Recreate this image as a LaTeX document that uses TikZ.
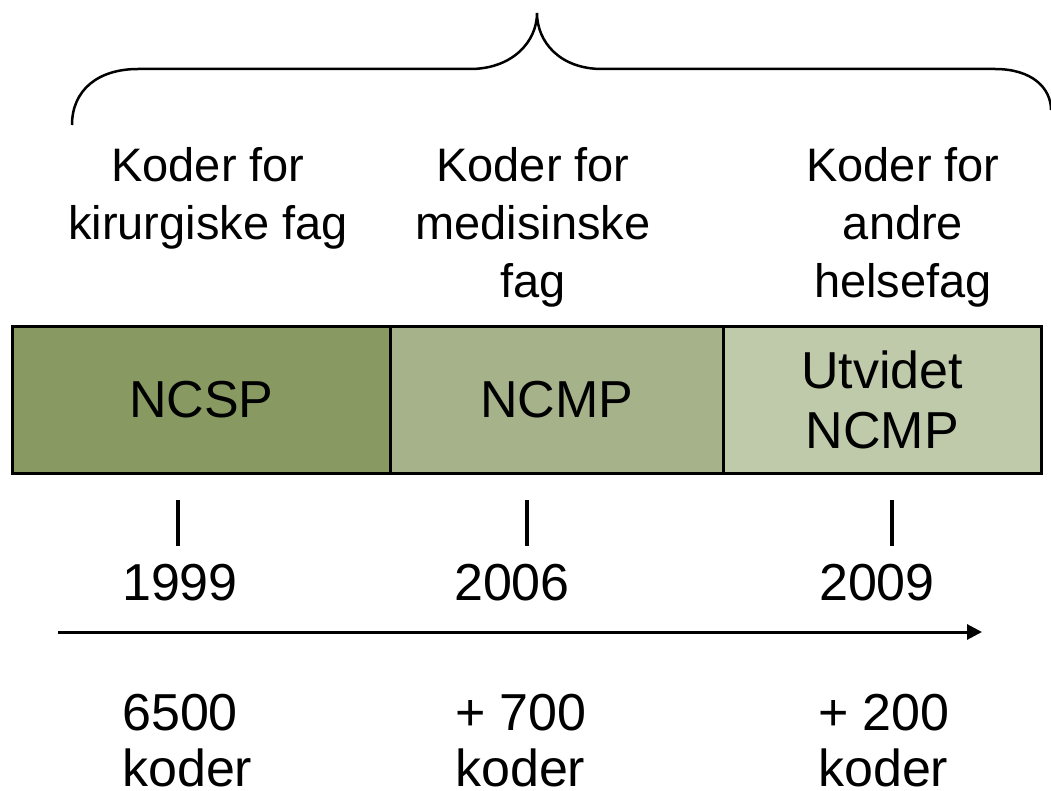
\documentclass[tikz,border=0pt]{standalone}
\usepackage{fontspec}
\setmainfont{Liberation Sans}
\usetikzlibrary{arrows.meta}
\definecolor{gA}{HTML}{889A62}
\definecolor{gB}{HTML}{A6B28A}
\definecolor{gC}{HTML}{BFCAAB}
\tikzset{
  seg/.style={draw=black, line width=2.5pt, inner sep=0pt, minimum height=147pt, anchor=north west, font=\fontsize{52}{60}\selectfont, align=center},
  toplabel/.style={inner sep=0pt, anchor=base, align=center, font=\fontsize{47}{58}\selectfont},
  year/.style={inner sep=0pt, anchor=base, font=\fontsize{52}{60}\selectfont},
  count/.style={inner sep=0pt, anchor=base west, align=left, font=\fontsize{52}{56}\selectfont},
  tick/.style={line width=3.5pt},
  brace/.style={line width=2.5pt},
  timeline/.style={line width=3pt, -{Triangle[length=15pt,width=15pt]}}
}
\begin{document}
\begin{tikzpicture}[x=1pt,y=-1pt]
\useasboundingbox (0,0) rectangle (1051,791);
% brace
\draw[brace] (72,125) .. controls (72,90) and (98,69) .. (138,69) -- (470,69)
  .. controls (512,69) and (537,42) .. (537,13)
  .. controls (537,42) and (560,69) .. (602,69) -- (995,69)
  .. controls (1032,69) and (1051,88) .. (1051,110);
% top labels
\node[toplabel] (t1) at (208,240) {Koder for\\kirurgiske fag};
\node[toplabel] (t2) at (533,298) {Koder for\\medisinske\\fag};
\node[toplabel] (t3) at (903,298) {Koder for\\andre\\helsefag};
% boxes
\node[seg, fill=gA, minimum width=378pt] (b1) at (11,325) {NCSP};
\node[seg, fill=gB, minimum width=333pt] (b2) at (389,325) {NCMP};
\node[seg, fill=gC, minimum width=318pt] (b3) at (722,325) {Utvidet\\NCMP};
% ticks
\coordinate (k1a) at (178,500); \coordinate (k1b) at (178,546);
\coordinate (k2a) at (527,500); \coordinate (k2b) at (527,546);
\coordinate (k3a) at (892,500); \coordinate (k3b) at (892,546);
\draw[tick] (k1a) -- (k1b);
\draw[tick] (k2a) -- (k2b);
\draw[tick] (k3a) -- (k3b);
% years
\node[year] (y1) at (180,600) {1999};
\node[year] (y2) at (512,600) {2006};
\node[year] (y3) at (877,600) {2009};
% arrow
\coordinate (as) at (58,632);
\coordinate (ae) at (982,632);
\draw[timeline] (as) -- (ae);
% counts
\node[count] (c1) at (122,786) {6500\\koder};
\node[count] (c2) at (455,786) {+ 700\\koder};
\node[count] (c3) at (818,786) {+ 200\\koder};
\end{tikzpicture}
\end{document}
